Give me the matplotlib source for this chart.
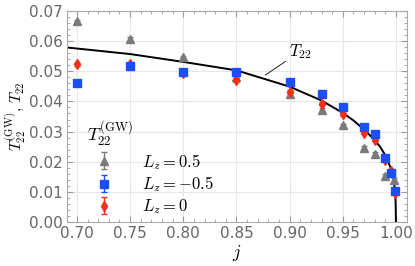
import matplotlib
matplotlib.use("Agg")
import matplotlib.pyplot as plt
from matplotlib.ticker import MultipleLocator

plt.rcParams['mathtext.fontset'] = 'cm'

# theory curve T22
j_curve = [0.69, 0.72, 0.75, 0.80, 0.85, 0.90, 0.93, 0.95, 0.96, 0.97, 0.98,
           0.985, 0.99, 0.995, 0.998, 0.999, 0.9997, 1.0]
T22 = [0.0579, 0.0568, 0.0557, 0.0531, 0.0503, 0.0449, 0.0403, 0.0362, 0.0337,
       0.0307, 0.0272, 0.0250, 0.0222, 0.0180, 0.0135, 0.0107, 0.0065, 0.0]

# GW data
j_pos = [0.70, 0.75, 0.80, 0.85, 0.90, 0.93, 0.95, 0.97, 0.98, 0.99, 0.998]
T_pos = [0.0666, 0.0607, 0.0546, 0.0481, 0.0423, 0.0373, 0.0321, 0.0247, 0.0227, 0.0153, 0.0140]

j_neg = [0.70, 0.75, 0.80, 0.85, 0.90, 0.93, 0.95, 0.97, 0.98, 0.99, 0.995, 0.999]
T_neg = [0.0462, 0.0518, 0.0498, 0.0499, 0.0464, 0.0423, 0.0381, 0.0314, 0.0293, 0.0214, 0.0162, 0.0103]

j_zero = [0.70, 0.75, 0.80, 0.85, 0.90, 0.93, 0.95, 0.97, 0.98, 0.99, 0.995, 0.999]
T_zero = [0.0523, 0.0524, 0.0494, 0.0471, 0.0432, 0.0393, 0.0357, 0.0296, 0.0273, 0.0207, 0.0171, 0.0098]

err = 0.0005

fig = plt.figure(figsize=(4.15, 2.66), dpi=100)
ax = fig.add_axes([0.161, 0.165, 0.82, 0.794])

ax.plot(j_curve, T22, color='black', lw=1.4, zorder=2)

ax.errorbar(j_pos, T_pos, yerr=err, fmt='^', color='#7a7a7a', ms=5.5, capsize=2.5,
            elinewidth=1, label=r'$L_z = 0.5$', zorder=3)
ax.errorbar(j_neg, T_neg, yerr=err, fmt='s', color='#1b4ef5', ms=5.5, capsize=2.5,
            elinewidth=1, label=r'$L_z = -0.5$', zorder=5)
ax.errorbar(j_zero, T_zero, yerr=err, fmt='d', color='#f03018', ms=5, capsize=2.5,
            elinewidth=1, label=r'$L_z = 0$', zorder=4)

ax.annotate(r'$T_{22}$', xy=(0.877, 0.0487), xytext=(0.899, 0.0565),
            fontsize=12, va='center', ha='left',
            arrowprops=dict(arrowstyle='-', color='black', lw=0.6, shrinkA=0, shrinkB=0))

ax.set_xlim(0.6905, 1.0105)
ax.set_ylim(0, 0.07)
ax.xaxis.set_major_locator(MultipleLocator(0.05))
ax.xaxis.set_minor_locator(MultipleLocator(0.01))
ax.yaxis.set_major_locator(MultipleLocator(0.01))
ax.yaxis.set_minor_locator(MultipleLocator(0.002))
ax.xaxis.set_major_formatter(plt.FormatStrFormatter('%.2f'))
ax.yaxis.set_major_formatter(plt.FormatStrFormatter('%.2f'))
ax.grid(True, which='major', color='#e6e6e6', lw=0.8)
ax.set_axisbelow(True)
ax.tick_params(which='both', direction='in', top=True, right=True, colors='#999999',
               labelcolor='#666666', labelsize=11)
ax.tick_params(which='major', length=4, pad=3)
ax.tick_params(which='minor', length=2)
for s in ax.spines.values():
    s.set_color('#aaaaaa')

ax.set_xlabel(r'$j$', fontsize=13, labelpad=1)
ax.set_ylabel(r'$T_{22}^{(\mathrm{GW})},\, T_{22}$', fontsize=11, va='center')
ax.yaxis.set_label_coords(-0.15, 0.5)

leg = ax.legend(loc='lower left', bbox_to_anchor=(0.02, -0.035), frameon=False,
                title=r'$T_{22}^{(\mathrm{GW})}$', title_fontsize=13, fontsize=12,
                handletextpad=1.3, labelspacing=0.18, borderpad=0.3)
leg._legend_box.align = 'left'

fig.savefig('out.png', dpi=100)
